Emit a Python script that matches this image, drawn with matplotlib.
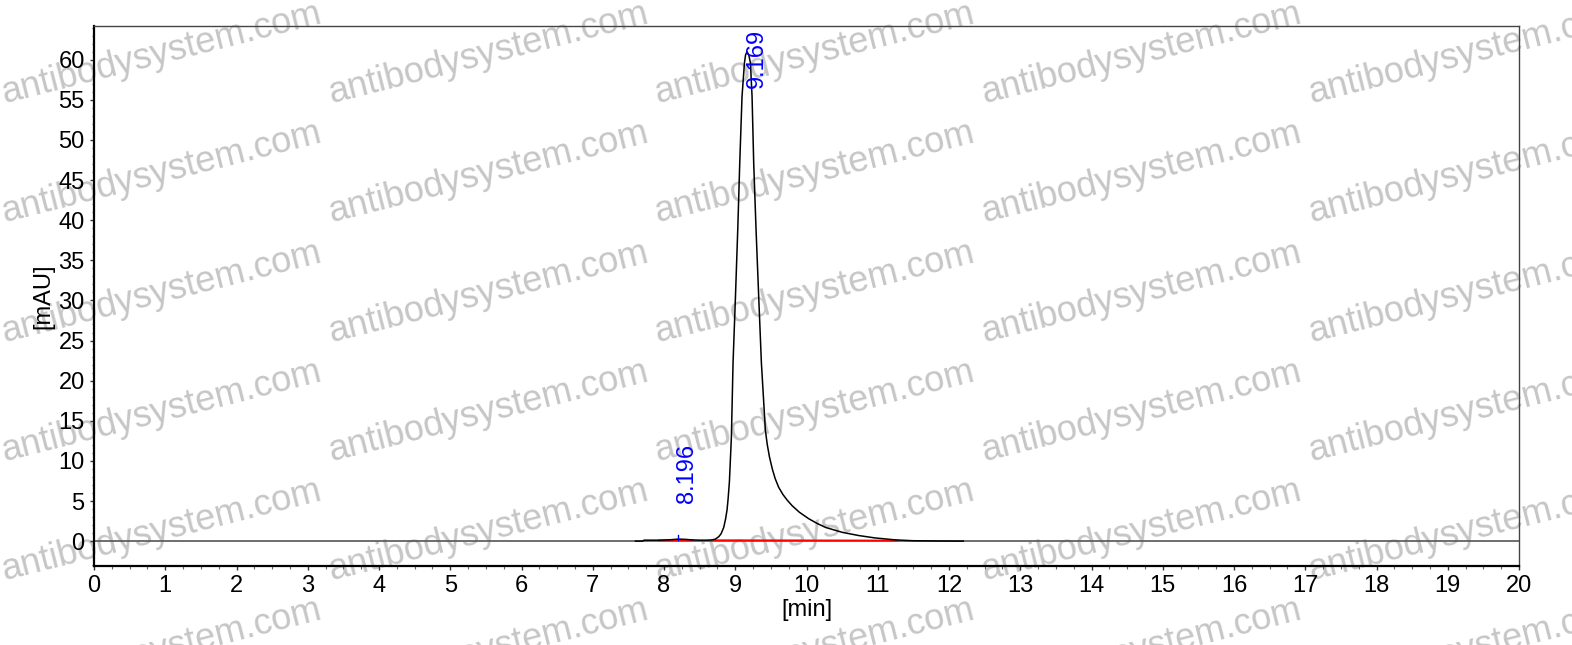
import matplotlib
matplotlib.use("Agg")
import matplotlib.pyplot as plt
from matplotlib.ticker import MultipleLocator

plt.rcParams['font.family'] = ['Liberation Sans', 'DejaVu Sans']

# ---- data ----
time_min = [7.60, 7.70, 7.72, 7.95, 8.10, 8.20, 8.30, 8.40, 8.50, 8.60,
            8.674, 8.72, 8.768, 8.80, 8.838, 8.865, 8.885, 8.90, 8.918,
            8.946, 8.969, 9.003, 9.035, 9.063, 9.095, 9.129, 9.145, 9.165,
            9.19, 9.213, 9.236, 9.259, 9.292, 9.329, 9.367, 9.423, 9.45,
            9.48, 9.52, 9.56, 9.61, 9.67, 9.73, 9.80, 9.90, 10.03, 10.15,
            10.27, 10.50, 10.73, 10.96, 11.25, 11.50, 11.80, 12.20]
signal_mau = [0.0, 0.0, 0.12, 0.12, 0.18, 0.25, 0.22, 0.15, 0.12, 0.12,
              0.15, 0.25, 0.55, 0.9, 1.7, 2.8, 3.9, 5.3, 7.4,
              13.0, 22.2, 30.5, 38.8, 47.1, 55.4, 59.6, 60.6, 61.0,
              60.6, 59.6, 55.4, 47.1, 38.8, 30.5, 22.2, 13.8, 12.0,
              10.5, 9.0, 7.8, 6.7, 5.8, 5.1, 4.4, 3.6, 2.8, 2.2,
              1.7, 1.1, 0.7, 0.4, 0.15, 0.05, 0.02, 0.0]

baseline1_t = [7.93, 8.40]
baseline1_y = [0.10, 0.12]
baseline2_t = [8.70, 11.28]
baseline2_y = [0.12, 0.08]

peak_rt = [8.196, 9.169]
peak_labels = ["8.196", "9.169"]

x_ticks = list(range(0, 21))
y_ticks = list(range(0, 65, 5))

watermark = "antibodysystem.com"
wm_cols_px = [5, 332, 658, 985, 1312]
wm_rows_px = [103, 222, 342, 461, 580, 699]

# ---- figure ----
W, H = 1572, 645
fig = plt.figure(figsize=(W / 100, H / 100), dpi=100)
ax = fig.add_axes([94 / W, 1 - 566 / H, (1519 - 94) / W, (566 - 26) / H])
ax.patch.set_facecolor('none')

# watermark behind everything
for cx in wm_cols_px:
    for ry in wm_rows_px:
        fig.text(cx / W, 1 - ry / H, watermark, fontsize=26, color='#c6c6c6',
                 rotation=14.2, rotation_mode='anchor', ha='left', va='baseline',
                 zorder=-5)

ax.set_xlim(0, 20)
ax.set_ylim(-3.1, 64.2)

ax.axhline(0, color='#555555', lw=1.2, zorder=1)
ax.plot(baseline1_t, baseline1_y, color='red', lw=1.2, zorder=2)
ax.plot(baseline2_t, baseline2_y, color='red', lw=1.2, zorder=2)
ax.plot(time_min, signal_mau, color='black', lw=1.1, zorder=3)

# small peak marker
ax.plot([peak_rt[0], peak_rt[0]], [0.1, 0.75], color='blue', lw=1.0, zorder=4)

ax.text(8.32, 4.74, peak_labels[0], rotation=90, color='blue', fontsize=17,
        ha='center', va='bottom', zorder=5)
ax.text(9.30, 63.8, peak_labels[1], rotation=90, color='blue', fontsize=17,
        ha='center', va='top', zorder=5)

ax.set_xticks(x_ticks)
ax.set_yticks(y_ticks)
ax.xaxis.set_minor_locator(MultipleLocator(0.25))
ax.yaxis.set_minor_locator(MultipleLocator(1))
ax.tick_params(which='major', direction='out', length=3.2, width=1.0,
               labelsize=17, pad=3.5, color='#333333')
ax.tick_params(which='minor', direction='out', length=1.8, width=0.8,
               color='#666666')

for side in ['left', 'bottom']:
    ax.spines[side].set_color('black')
    ax.spines[side].set_linewidth(1.6)
for side in ['top', 'right']:
    ax.spines[side].set_color('#444444')
    ax.spines[side].set_linewidth(1.0)

ax.set_xlabel('[min]', fontsize=17, labelpad=1)
ax.set_ylabel('[mAU]', fontsize=17, labelpad=3)

fig.savefig('out.png', dpi=100)
